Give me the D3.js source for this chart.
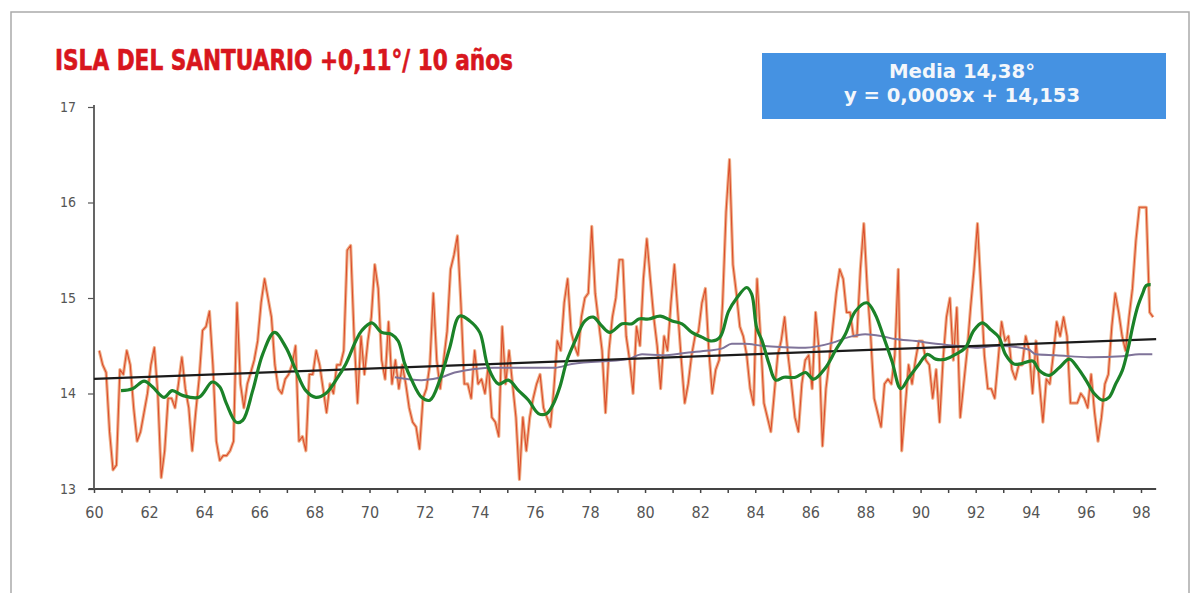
<!DOCTYPE html>
<html>
<head>
<meta charset="utf-8">
<script src="https://cdn.jsdelivr.net/npm/d3@7"></script>
<style>
  body { margin: 0; background: #fff; }
  .axis text { font-family: "Liberation Sans Narrow", "DejaVu Sans Condensed", sans-serif; fill: #555; }
</style>
</head>
<body>
<div id="chart"></div>
<script>
// monthly-ish series, every 1/8 year from 60.19
var monthlyStart = 60.19;
var monthlyStep = 0.125;
var monthlyTemps = [
  14.45, 14.3, 14.22, 13.6, 13.2, 13.25, 14.25, 14.2, 14.45, 14.3, 13.85, 13.5, 13.6, 13.8, 14.0, 14.3, 14.48, 14.0, 13.12, 13.4,
  13.95, 13.95, 13.85, 14.1, 14.38, 14.05, 13.85, 13.4, 13.8, 14.15, 14.66, 14.7, 14.86, 14.3, 13.5, 13.3, 13.35,
  13.35, 13.4, 13.5, 14.95, 14.1, 13.85, 14.1, 14.22, 14.35, 14.55, 14.95, 15.2, 15.0, 14.8, 14.3, 14.05, 14.0, 14.15, 14.2, 14.3,
  14.5, 13.5, 13.55, 13.4, 14.2, 14.2, 14.45, 14.3, 14.05, 13.8, 14.1, 14.0, 14.3, 14.3, 14.45, 15.5, 15.55, 14.6,
  13.9, 14.6, 14.2, 14.55, 14.8, 15.35, 15.1, 14.35, 14.15, 14.75, 14.1, 14.35, 14.05, 14.3, 14.1, 13.85, 13.7, 13.65, 13.42, 13.95,
  14.05, 14.3, 15.05, 14.35, 14.05, 14.35, 14.65, 15.3, 15.45, 15.65, 14.95, 14.1, 14.1, 13.95, 14.45, 14.1, 14.15, 14.0, 14.3, 13.75,
  13.7, 13.55, 14.7, 14.1, 14.45, 14.1, 13.75, 13.1, 13.75, 13.4, 13.75, 13.95, 14.1, 14.2, 13.85, 13.75, 13.65, 14.05, 14.55, 14.45,
  14.95, 15.2, 14.65, 14.5, 14.4, 14.8, 15.0, 15.05, 15.75, 15.05, 14.75, 14.45, 13.8, 14.45, 14.8, 15.0, 15.4, 15.4, 14.6,
  14.35, 14.0, 14.7, 14.5, 15.2, 15.62, 15.2, 14.8, 14.5, 14.05, 14.6, 14.45, 14.95, 15.35, 14.85, 14.35, 13.9, 14.1, 14.4, 14.6,
  14.65, 14.95, 15.1, 14.45, 14.0, 14.25, 14.35, 14.95, 15.9, 16.45, 15.35, 15.05, 14.7, 14.6, 14.4, 14.05, 13.88, 15.2, 14.6,
  13.9, 13.75, 13.6, 14.0, 14.4, 14.55, 14.8, 14.4, 14.1, 13.75, 13.6, 14.1, 14.35, 14.4, 14.05, 14.85, 14.45, 13.45, 14.05, 14.35,
  14.7, 15.05, 15.3, 15.2, 14.85, 14.85, 14.6, 14.6, 15.3, 15.78, 15.1, 14.6, 13.95, 13.8, 13.65, 14.1, 14.15, 14.1, 14.4,
  15.3, 13.4, 13.85, 14.3, 14.1, 14.35, 14.55, 14.55, 14.35, 14.3, 13.95, 14.25, 13.7, 14.35, 14.8, 15.0, 14.35, 14.9, 13.75, 14.1,
  14.45, 14.9, 15.3, 15.78, 15.1, 14.4, 14.05, 14.05, 13.95, 14.35, 14.75, 14.55, 14.6, 14.25, 14.15, 14.3, 14.3, 14.6,
  14.45, 14.0, 14.55, 14.1, 13.7, 14.15, 14.1, 14.4, 14.75, 14.6, 14.8, 14.6, 13.9, 13.9, 13.9, 14.0, 13.95, 13.85, 14.2, 13.8,
  13.5, 13.75, 14.1, 14.2, 14.7, 15.05, 14.85, 14.6, 14.45, 14.8, 15.1, 15.6, 15.95, 15.95, 15.95, 14.85, 14.8
];

// green smoothed curve
var smoothYears = [
  60.98, 61.40, 61.82, 62.12, 62.54, 62.84, 63.21, 63.81, 64.29, 64.56, 64.80, 65.16, 65.40, 65.76, 66.12, 66.55, 66.97, 67.33,
  67.69, 68.05, 68.41, 68.78, 69.14, 69.50, 69.72, 70.08, 70.44, 70.80, 71.04, 71.28, 71.53, 71.89, 72.19, 72.55, 72.91, 73.27,
  73.64, 74.00, 74.30, 74.68, 75.04, 75.41, 75.77, 76.13, 76.43, 76.67, 76.91, 77.16, 77.46, 77.82, 78.12, 78.42, 78.72, 79.17,
  79.53, 79.77, 80.13, 80.55, 80.98, 81.34, 81.70, 82.06, 82.42, 82.72, 83.03, 83.33, 83.69, 83.87, 84.05, 84.25, 84.50, 84.74,
  85.04, 85.46, 85.82, 86.12, 86.55, 86.91, 87.27, 87.63, 88.05, 88.35, 88.66, 88.96, 89.28, 89.58, 89.95, 90.25, 90.55, 90.91,
  91.27, 91.63, 91.93, 92.24, 92.54, 92.84, 93.08, 93.38, 93.62, 94.07, 94.31, 94.67, 95.03, 95.40, 95.70, 96.00, 96.30, 96.60,
  96.84, 97.08, 97.32, 97.54, 97.69, 97.87, 98.05, 98.19, 98.35
];
var smoothTemps = [
  14.03, 14.05, 14.13, 14.07, 13.96, 14.03, 13.98, 13.96, 14.12, 14.07, 13.90, 13.70, 13.72, 14.03, 14.41, 14.64, 14.48, 14.24,
  14.03, 13.96, 14.00, 14.14, 14.31, 14.55, 14.66, 14.74, 14.64, 14.62, 14.55, 14.31, 14.14, 13.96, 13.93, 14.14, 14.48, 14.81,
  14.76, 14.64, 14.28, 14.10, 14.14, 14.03, 13.93, 13.79, 13.79, 13.89, 14.07, 14.34, 14.55, 14.76, 14.80, 14.71, 14.64, 14.73,
  14.73, 14.78, 14.78, 14.81, 14.76, 14.73, 14.64, 14.59, 14.55, 14.59, 14.86, 15.00, 15.11, 15.04, 14.69, 14.55, 14.31, 14.14,
  14.17, 14.17, 14.22, 14.15, 14.27, 14.45, 14.62, 14.86, 14.95, 14.83, 14.59, 14.34, 14.05, 14.17, 14.31, 14.41, 14.36, 14.36,
  14.41, 14.48, 14.66, 14.74, 14.67, 14.59, 14.41, 14.31, 14.31, 14.34, 14.24, 14.19, 14.27, 14.36, 14.27, 14.14, 14.00, 13.93,
  13.96, 14.10, 14.24, 14.48, 14.69, 14.90, 15.04, 15.13, 15.14
];

// purple running mean
var meanYears = [
  70.92, 71.89, 72.61, 73.09, 74.54, 76.73, 77.34, 79.38, 79.89, 80.61, 81.58, 82.30, 82.78, 83.15, 83.63, 84.23, 84.74, 85.82,
  86.79, 87.39, 87.99, 88.59, 89.08, 89.83, 90.55, 91.27, 92.00, 92.84, 93.92, 94.19, 94.91, 96.12, 97.32, 97.93, 98.41
];
var meanTemps = [
  14.17, 14.14, 14.17, 14.22, 14.27, 14.27, 14.31, 14.36, 14.41, 14.40, 14.43, 14.45, 14.47, 14.52, 14.52, 14.50, 14.49, 14.48,
  14.53, 14.59, 14.62, 14.60, 14.57, 14.55, 14.52, 14.50, 14.48, 14.50, 14.46, 14.41, 14.40, 14.38, 14.39, 14.41, 14.41
];

// black linear trend (end points)
var trendYears = [60, 98.55];
var trendTemps = [14.153, 14.569];

var yTicks = [13, 14, 15, 16, 17];
var xTicks = d3.range(60, 99);

var svgWidth = 1192;
var svgHeight = 593;

var svg = d3.select('#chart').append('svg')
    .attr('width', svgWidth)
    .attr('height', svgHeight)

// scanned page frame
svg.append('path')
    .attr('d', 'M11,593 L11,12 L1189,12 L1189,593')
    .attr('fill', 'none')
    .attr('stroke', '#aaa')
    .attr('stroke-width', 1.5)

var xScale = d3.scaleLinear().domain([60, 98]).range([94, 1141])
var yScale = d3.scaleLinear().domain([13, 17]).range([489, 107])

// title
svg.append('text')
    .attr('x', 55)
    .attr('y', 70)
    .attr('textLength', 458)
    .attr('lengthAdjust', 'spacingAndGlyphs')
    .style('font-family', '"DejaVu Sans Condensed", "Liberation Sans Narrow", sans-serif')
    .style('font-weight', 'bold')
    .style('font-size', '28px')
    .attr('fill', '#d8161d')
    .attr('stroke', '#d8161d')
    .attr('stroke-width', 0.6)
    .text('ISLA DEL SANTUARIO +0,11°/ 10 años')

// legend box
svg.append('rect')
    .attr('x', 762).attr('y', 53)
    .attr('width', 404).attr('height', 66)
    .attr('fill', '#4592e2')

var boxLines = ['Media 14,38°', 'y = 0,0009x + 14,153'];
var boxWidths = [146, 236];
svg.selectAll('.box-text')
    .data(boxLines)
    .enter()
    .append('text')
    .classed('box-text', true)
    .attr('x', 962)
    .attr('y', (d, i) => 78 + i * 23.5)
    .attr('text-anchor', 'middle')
    .attr('textLength', (d, i) => boxWidths[i])
    .attr('lengthAdjust', 'spacingAndGlyphs')
    .style('font-family', '"DejaVu Sans Condensed", "Liberation Sans", sans-serif')
    .style('font-weight', 'bold')
    .style('font-size', '19px')
    .attr('fill', '#f4f7fb')
    .text(d => d)

// axes
var xAxisF = d3.axisBottom(xScale)
    .tickValues(xTicks)
    .tickSize(4)
    .tickPadding(14)
    .tickFormat(d => d % 2 === 0 ? d : '')

var yAxisF = d3.axisLeft(yScale)
    .tickValues(yTicks)
    .tickSize(6)
    .tickPadding(12)
    .tickFormat(d3.format('d'))

var xAxis = svg.append('g')
    .attr('class', 'axis')
    .attr('transform', `translate(0,${yScale(13)})`)
    .call(xAxisF)
xAxis.select('.domain').remove()
xAxis.selectAll('line').attr('stroke', '#444').attr('stroke-width', 1.5)
xAxis.selectAll('text').style('font-size', '16px').attr('fill', '#666')

var yAxis = svg.append('g')
    .attr('class', 'axis')
    .attr('transform', `translate(${xScale(60)},0)`)
    .call(yAxisF)
yAxis.select('.domain').remove()
yAxis.selectAll('line').attr('stroke', '#555').attr('stroke-width', 1.2)
yAxis.selectAll('text').style('font-size', '14px').attr('fill', '#666')

svg.append('line')
    .attr('x1', xScale(59.8)).attr('x2', xScale(98.55))
    .attr('y1', yScale(13)).attr('y2', yScale(13))
    .attr('stroke', '#444').attr('stroke-width', 1.8)

svg.append('line')
    .attr('x1', xScale(60)).attr('x2', xScale(60))
    .attr('y1', yScale(17) - 2).attr('y2', yScale(13))
    .attr('stroke', '#555').attr('stroke-width', 1.8)

// lines
var monthly = monthlyTemps.map((t, i) => ({ year: monthlyStart + i * monthlyStep, temp: t }))
var smooth = smoothYears.map((yr, i) => ({ year: yr, temp: smoothTemps[i] }))
var mean = meanYears.map((yr, i) => ({ year: yr, temp: meanTemps[i] }))
var trend = trendYears.map((yr, i) => ({ year: yr, temp: trendTemps[i] }))

var line = d3.line()
    .x(d => xScale(d.year))
    .y(d => yScale(d.temp))

svg.append('path')
    .datum(monthly)
    .attr('d', line)
    .attr('fill', 'none')
    .attr('stroke', '#eeb08a')
    .attr('stroke-width', 3.2)
    .attr('stroke-linejoin', 'round')

svg.append('path')
    .datum(monthly)
    .attr('d', line)
    .attr('fill', 'none')
    .attr('stroke', '#dc4e2c')
    .attr('stroke-width', 1.1)
    .attr('stroke-linejoin', 'round')

svg.append('path')
    .datum(mean)
    .attr('d', line.curve(d3.curveMonotoneX))
    .attr('fill', 'none')
    .attr('stroke', '#7f7399')
    .attr('stroke-width', 2)

svg.append('path')
    .datum(trend)
    .attr('d', d3.line().x(d => xScale(d.year)).y(d => yScale(d.temp)))
    .attr('fill', 'none')
    .attr('stroke', '#1b1b1b')
    .attr('stroke-width', 2.2)

svg.append('path')
    .datum(smooth)
    .attr('d', d3.line().x(d => xScale(d.year)).y(d => yScale(d.temp)).curve(d3.curveCatmullRom))
    .attr('fill', 'none')
    .attr('stroke', '#1b8228')
    .attr('stroke-width', 3.2)
    .attr('stroke-linejoin', 'round')
</script>
</body>
</html>
